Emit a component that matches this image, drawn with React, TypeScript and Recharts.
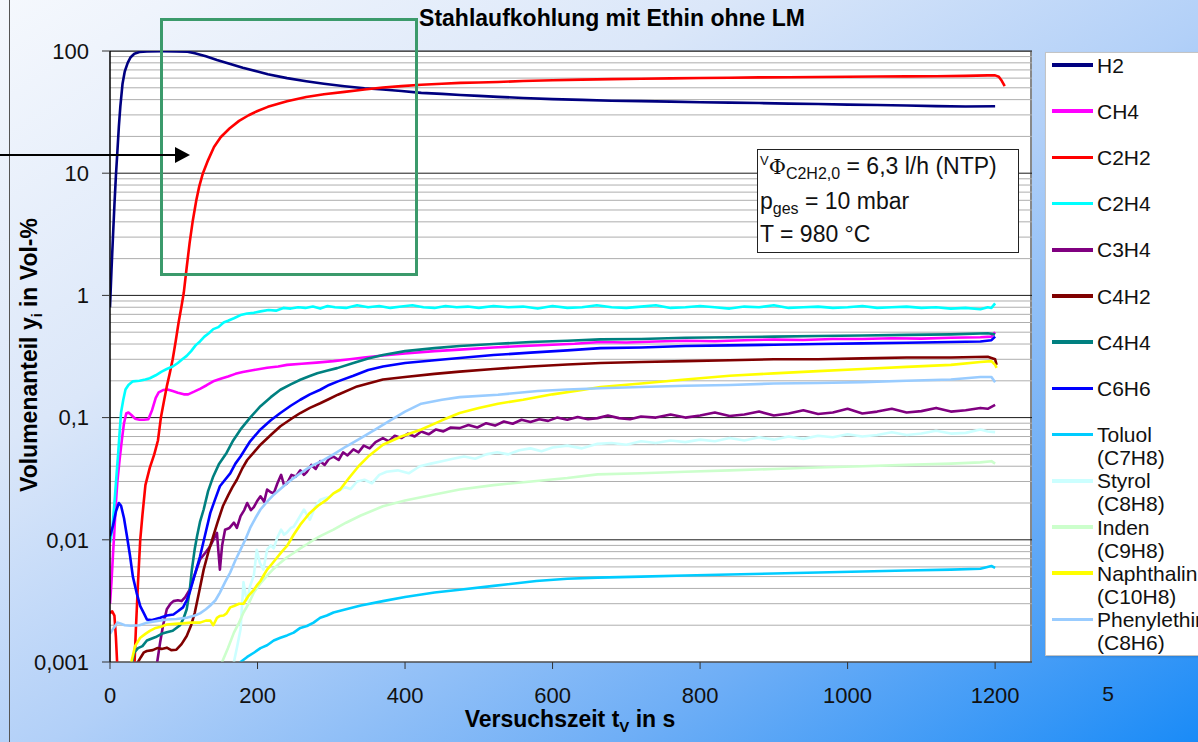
import React from "react";
import { CartesianGrid, Line, LineChart, XAxis, YAxis } from "recharts";

type Pt = [number, number];

// [Versuchszeit in s, Volumenanteil in Vol-%]
const H2: Pt[] = [
  [0, 0.8], [2, 1.6], [4, 3], [6, 5.5], [8, 9.5], [10, 15], [12, 24], [14, 35], [17, 54], [20, 68],
  [24, 80], [28, 89], [33, 95], [40, 98], [50, 99.3], [70, 99.5], [90, 99.3], [105, 98.5], [115, 96],
  [130, 90.5], [145, 84.5], [162, 78.8], [180, 73], [200, 68], [214, 64.5], [240, 60], [266, 56.6],
  [290, 54], [318, 51.5], [345, 49.6], [370, 48.4], [395, 47], [422, 45.4], [450, 44.6], [475, 43.6],
  [500, 42.9], [526, 42.1], [560, 41.3], [600, 40.4], [640, 39.8], [680, 39.2], [720, 38.9], [760, 38.5],
  [800, 38.1], [840, 37.8], [880, 37.5], [920, 37.1], [960, 36.8], [1000, 36.4], [1040, 36.1],
  [1080, 35.8], [1120, 35.4], [1160, 35.1], [1200, 35.3],
];

const CH4: Pt[] = [
  [0, 0.003], [2, 0.0045], [4, 0.0075], [6, 0.012], [8, 0.02], [10, 0.03], [13, 0.045], [16, 0.065],
  [19, 0.09], [22, 0.108], [25, 0.11], [29, 0.105], [34, 0.098], [40, 0.096], [46, 0.096], [52, 0.097],
  [57, 0.115], [62, 0.145], [66, 0.161], [72, 0.168], [78, 0.17], [85, 0.165], [92, 0.16], [100, 0.155],
  [106, 0.155], [114, 0.163], [122, 0.172], [131, 0.184], [140, 0.198], [150, 0.208], [160, 0.217],
  [170, 0.228], [180, 0.236], [195, 0.245], [213, 0.256], [228, 0.262], [240, 0.27], [260, 0.276],
  [280, 0.282], [303, 0.29], [325, 0.3], [344, 0.31], [370, 0.322], [400, 0.335], [440, 0.35],
  [474, 0.36], [520, 0.375], [560, 0.385], [600, 0.395], [630, 0.402], [665, 0.415], [700, 0.412],
  [740, 0.42], [780, 0.425], [820, 0.422], [860, 0.43], [900, 0.435], [940, 0.432], [980, 0.44],
  [1020, 0.44], [1060, 0.446], [1100, 0.443], [1140, 0.45], [1180, 0.455], [1195, 0.46], [1200, 0.5],
];

const C2H2: Pt[] = [
  [0, 0.0025], [3, 0.0026], [6, 0.0024], [8, 0.0016], [10, 0.0009], [12, 0.0004], [30, 0.0004],
  [33, 0.0009], [35, 0.0018], [38, 0.0045], [41, 0.01], [44, 0.016], [48, 0.028], [54, 0.039],
  [60, 0.05], [65, 0.065], [69, 0.1], [73, 0.135], [77, 0.18], [81, 0.23], [85, 0.3], [89, 0.42],
  [93, 0.6], [97, 0.82], [100, 1.05], [104, 1.7], [108, 2.7], [112, 4], [117, 6], [121, 7.8], [126, 10],
  [133, 12.8], [141, 16.4], [150, 19.7], [162, 23.2], [175, 26.8], [188, 29.8], [200, 32.3], [214, 34.9],
  [240, 38.8], [266, 42], [290, 44.3], [318, 46.3], [345, 48.4], [370, 50.2], [395, 51.6], [422, 53],
  [450, 54], [475, 54.8], [500, 55.3], [526, 55.8], [560, 56.8], [600, 57.6], [640, 58.3], [680, 58.9],
  [720, 59.3], [760, 59.7], [800, 60.1], [840, 60.4], [880, 60.8], [920, 61], [960, 61.3], [1000, 61.5],
  [1040, 61.8], [1080, 62], [1120, 62.2], [1160, 62.6], [1190, 63.2], [1200, 63.2], [1205, 61.5],
  [1209, 57], [1213, 51.5],
];

const C2H4: Pt[] = [
  [0, 0.0095], [3, 0.012], [6, 0.02], [9, 0.035], [11, 0.05], [13, 0.075], [15, 0.11], [18, 0.14],
  [21, 0.17], [25, 0.185], [31, 0.198], [40, 0.2], [48, 0.205], [54, 0.21], [62, 0.222], [70, 0.238],
  [77, 0.25], [85, 0.262], [92, 0.28], [98, 0.3], [104, 0.32], [110, 0.35], [116, 0.39], [122, 0.42],
  [128, 0.46], [134, 0.49], [140, 0.53], [147, 0.55], [154, 0.6], [160, 0.62], [168, 0.65], [177, 0.69],
  [186, 0.71], [195, 0.72], [204, 0.74], [215, 0.76], [225, 0.75], [235, 0.79], [245, 0.78], [255, 0.8],
  [265, 0.79], [275, 0.81], [285, 0.78], [295, 0.82], [305, 0.8], [320, 0.79], [335, 0.83], [350, 0.8],
  [365, 0.82], [380, 0.79], [395, 0.81], [410, 0.83], [425, 0.8], [440, 0.79], [455, 0.82], [470, 0.8],
  [485, 0.81], [500, 0.79], [520, 0.82], [540, 0.8], [560, 0.81], [580, 0.78], [600, 0.82], [620, 0.79],
  [640, 0.8], [660, 0.83], [680, 0.8], [700, 0.79], [720, 0.81], [740, 0.83], [760, 0.79], [780, 0.8],
  [800, 0.82], [820, 0.8], [840, 0.78], [860, 0.81], [880, 0.8], [900, 0.83], [920, 0.79], [940, 0.8],
  [960, 0.81], [980, 0.79], [1000, 0.8], [1020, 0.82], [1040, 0.79], [1060, 0.8], [1080, 0.81],
  [1100, 0.79], [1120, 0.8], [1140, 0.78], [1160, 0.79], [1180, 0.77], [1190, 0.8], [1195, 0.79],
  [1200, 0.86],
];

const C3H4: Pt[] = [
  [0, 0.0005], [60, 0.0005], [64, 0.001], [68, 0.00145], [72, 0.002], [77, 0.0027], [82, 0.003],
  [86, 0.00315], [92, 0.0032], [97, 0.00315], [102, 0.0034], [108, 0.0039], [115, 0.0052], [122, 0.0069],
  [129, 0.0078], [136, 0.0089], [142, 0.0105], [145, 0.0114], [147, 0.008], [149, 0.0057], [152, 0.009],
  [156, 0.0121], [162, 0.0125], [168, 0.0138], [172, 0.0125], [177, 0.0156], [182, 0.0175], [186, 0.02],
  [191, 0.0175], [195, 0.0185], [200, 0.021], [204, 0.0227], [209, 0.0205], [213, 0.0258], [218, 0.0245],
  [222, 0.024], [227, 0.029], [232, 0.034], [236, 0.028], [240, 0.029], [246, 0.034], [252, 0.033],
  [258, 0.037], [263, 0.034], [267, 0.036], [273, 0.041], [279, 0.038], [285, 0.044], [291, 0.041],
  [297, 0.046], [303, 0.048], [310, 0.045], [316, 0.052], [322, 0.049], [330, 0.055], [337, 0.052],
  [344, 0.059], [352, 0.056], [360, 0.063], [370, 0.068], [378, 0.064], [386, 0.071], [395, 0.068],
  [404, 0.074], [413, 0.07], [422, 0.077], [432, 0.073], [442, 0.08], [452, 0.077], [462, 0.083],
  [474, 0.082], [486, 0.087], [498, 0.083], [510, 0.09], [522, 0.086], [534, 0.093], [546, 0.089],
  [558, 0.096], [570, 0.092], [582, 0.097], [594, 0.094], [606, 0.1], [620, 0.096], [634, 0.101],
  [648, 0.097], [661, 0.099], [675, 0.104], [690, 0.099], [705, 0.097], [720, 0.102], [740, 0.1],
  [760, 0.106], [780, 0.1], [800, 0.104], [820, 0.11], [840, 0.103], [860, 0.106], [880, 0.112],
  [900, 0.104], [920, 0.108], [940, 0.115], [960, 0.107], [980, 0.11], [1000, 0.118], [1020, 0.108],
  [1040, 0.112], [1060, 0.118], [1080, 0.11], [1100, 0.113], [1120, 0.12], [1140, 0.112], [1160, 0.115],
  [1180, 0.12], [1190, 0.118], [1200, 0.127],
];

const C4H2: Pt[] = [
  [0, 0.0005], [36, 0.0005], [38, 0.001], [42, 0.0011], [46, 0.0012], [50, 0.00123], [58, 0.00125],
  [64, 0.0013], [70, 0.00128], [77, 0.00131], [83, 0.00125], [90, 0.00126], [97, 0.0014], [104, 0.00163],
  [110, 0.002], [115, 0.00254], [121, 0.0038], [127, 0.0057], [133, 0.0078], [140, 0.0107], [146, 0.014],
  [153, 0.0188], [160, 0.023], [166, 0.027], [172, 0.031], [179, 0.038], [186, 0.045], [195, 0.052],
  [204, 0.06], [218, 0.072], [231, 0.085], [245, 0.097], [258, 0.109], [271, 0.12], [285, 0.131],
  [297, 0.142], [309, 0.154], [335, 0.18], [370, 0.205], [400, 0.215], [440, 0.228], [474, 0.238],
  [520, 0.25], [570, 0.262], [620, 0.272], [665, 0.28], [720, 0.285], [780, 0.29], [840, 0.295],
  [900, 0.3], [960, 0.3], [1020, 0.305], [1080, 0.31], [1140, 0.31], [1190, 0.315], [1200, 0.3],
  [1202, 0.27],
];

const C4H4: Pt[] = [
  [0, 0.0005], [28, 0.0005], [30, 0.001], [33, 0.0012], [38, 0.0013], [44, 0.00135], [50, 0.0015],
  [56, 0.00155], [62, 0.0016], [70, 0.0017], [77, 0.00175], [85, 0.0018], [95, 0.002], [100, 0.0023],
  [104, 0.0027], [108, 0.0038], [111, 0.0057], [115, 0.0085], [118, 0.0107], [122, 0.014], [127, 0.0177],
  [133, 0.025], [140, 0.033], [148, 0.042], [158, 0.0514], [167, 0.065], [177, 0.08], [190, 0.1],
  [204, 0.124], [218, 0.147], [231, 0.169], [245, 0.187], [258, 0.204], [270, 0.218], [281, 0.231],
  [295, 0.243], [308, 0.254], [330, 0.28], [350, 0.305], [370, 0.325], [400, 0.35], [440, 0.37],
  [474, 0.385], [520, 0.4], [570, 0.415], [620, 0.425], [665, 0.437], [720, 0.44], [780, 0.45],
  [840, 0.455], [900, 0.46], [960, 0.465], [1020, 0.47], [1080, 0.475], [1140, 0.48], [1190, 0.49],
  [1200, 0.48],
];

const C6H6: Pt[] = [
  [0, 0.0107], [4, 0.013], [8, 0.017], [12, 0.02], [15, 0.019], [19, 0.015], [23, 0.0107], [27, 0.0075],
  [31, 0.005], [36, 0.0037], [41, 0.00287], [46, 0.0025], [50, 0.00223], [56, 0.0022], [62, 0.00225],
  [68, 0.0023], [77, 0.0024], [86, 0.00245], [92, 0.0026], [99, 0.0028], [104, 0.0032], [108, 0.0037],
  [115, 0.0052], [122, 0.0073], [129, 0.011], [136, 0.0166], [142, 0.021], [149, 0.0274], [156, 0.031],
  [163, 0.035], [170, 0.042], [177, 0.048], [190, 0.064], [204, 0.08], [218, 0.095], [231, 0.109],
  [245, 0.125], [258, 0.14], [271, 0.155], [285, 0.169], [297, 0.185], [309, 0.198], [330, 0.22],
  [350, 0.245], [370, 0.262], [400, 0.28], [440, 0.295], [474, 0.307], [520, 0.325], [570, 0.34],
  [620, 0.355], [665, 0.37], [720, 0.375], [780, 0.385], [840, 0.39], [900, 0.395], [960, 0.4],
  [1020, 0.405], [1080, 0.41], [1140, 0.415], [1180, 0.42], [1195, 0.43], [1200, 0.46],
];

const C7H8: Pt[] = [
  [0, 0.0005], [175, 0.0005], [177, 0.001], [186, 0.0011], [195, 0.00119], [204, 0.0013], [213, 0.00137],
  [222, 0.0015], [231, 0.00158], [240, 0.00165], [249, 0.00174], [258, 0.0019], [267, 0.00197],
  [276, 0.0021], [285, 0.0023], [294, 0.0024], [303, 0.00254], [320, 0.0027], [340, 0.0029],
  [370, 0.00315], [400, 0.0034], [440, 0.0037], [474, 0.0039], [520, 0.0042], [578, 0.0046],
  [620, 0.0048], [661, 0.0049], [720, 0.005], [780, 0.0051], [840, 0.0052], [900, 0.0053], [960, 0.0054],
  [1020, 0.0055], [1080, 0.0056], [1140, 0.0057], [1180, 0.0058], [1195, 0.0061], [1200, 0.0059],
];

const C8H8: Pt[] = [
  [0, 0.0005], [166, 0.0005], [168, 0.001], [172, 0.0013], [177, 0.00185], [181, 0.0045], [184, 0.0035],
  [186, 0.0032], [190, 0.0042], [195, 0.0051], [199, 0.0083], [203, 0.0065], [208, 0.0057], [213, 0.0083],
  [218, 0.009], [222, 0.0085], [227, 0.0105], [232, 0.0121], [236, 0.011], [240, 0.0115], [245, 0.0125],
  [249, 0.0128], [256, 0.015], [263, 0.0177], [267, 0.016], [271, 0.0146], [278, 0.0185], [285, 0.0213],
  [292, 0.022], [298, 0.0225], [303, 0.024], [310, 0.025], [318, 0.027], [326, 0.026], [335, 0.03],
  [345, 0.031], [355, 0.029], [365, 0.034], [375, 0.036], [390, 0.037], [405, 0.035], [420, 0.04],
  [435, 0.042], [450, 0.044], [465, 0.046], [480, 0.048], [495, 0.046], [510, 0.05], [525, 0.052],
  [540, 0.05], [555, 0.054], [570, 0.056], [585, 0.053], [600, 0.057], [620, 0.059], [640, 0.056],
  [661, 0.061], [680, 0.062], [700, 0.06], [720, 0.064], [740, 0.062], [760, 0.065], [780, 0.063],
  [800, 0.066], [820, 0.064], [840, 0.068], [860, 0.065], [880, 0.069], [900, 0.066], [920, 0.07],
  [940, 0.067], [960, 0.071], [980, 0.069], [1000, 0.073], [1020, 0.07], [1040, 0.072], [1060, 0.076],
  [1080, 0.072], [1100, 0.074], [1120, 0.078], [1140, 0.074], [1160, 0.075], [1180, 0.08], [1190, 0.077],
  [1200, 0.076],
];

const C9H8: Pt[] = [
  [0, 0.0005], [150, 0.0005], [152, 0.001], [160, 0.0013], [168, 0.00174], [175, 0.0021], [181, 0.00254],
  [188, 0.003], [195, 0.0037], [204, 0.0044], [213, 0.0051], [222, 0.0058], [231, 0.0065], [240, 0.0072],
  [249, 0.0078], [258, 0.0085], [267, 0.0092], [276, 0.01], [285, 0.0107], [294, 0.0114], [303, 0.0121],
  [320, 0.0138], [340, 0.0158], [370, 0.0188], [400, 0.021], [440, 0.0235], [474, 0.0258], [520, 0.028],
  [578, 0.0303], [620, 0.032], [661, 0.0343], [720, 0.035], [780, 0.036], [840, 0.037], [900, 0.038],
  [960, 0.039], [1020, 0.04], [1080, 0.041], [1140, 0.042], [1180, 0.043], [1195, 0.044], [1200, 0.042],
];

const C10H8: Pt[] = [
  [0, 0.0005], [27, 0.0005], [29, 0.001], [34, 0.00135], [41, 0.00158], [48, 0.0017], [54, 0.0018],
  [62, 0.0019], [70, 0.00195], [77, 0.00203], [88, 0.00205], [99, 0.00207], [110, 0.0021], [122, 0.0021],
  [130, 0.00218], [136, 0.00218], [140, 0.002], [145, 0.0023], [149, 0.00238], [154, 0.0024],
  [158, 0.0025], [163, 0.0028], [168, 0.00287], [175, 0.003], [181, 0.003], [188, 0.0035], [195, 0.0039],
  [200, 0.0043], [204, 0.0046], [209, 0.0052], [213, 0.0057], [220, 0.0064], [226, 0.0071], [233, 0.008],
  [240, 0.0089], [249, 0.011], [258, 0.0133], [265, 0.015], [271, 0.0166], [282, 0.019], [294, 0.0213],
  [303, 0.024], [312, 0.0258], [324, 0.032], [337, 0.04], [350, 0.048], [370, 0.06], [395, 0.07],
  [422, 0.08], [450, 0.095], [474, 0.109], [500, 0.12], [526, 0.13], [560, 0.14], [600, 0.155],
  [640, 0.168], [665, 0.178], [720, 0.19], [780, 0.205], [840, 0.22], [900, 0.23], [960, 0.24],
  [1020, 0.25], [1080, 0.26], [1140, 0.27], [1180, 0.285], [1195, 0.29], [1200, 0.27], [1202, 0.255],
];

const C8H6: Pt[] = [
  [0, 0.0017], [5, 0.0019], [10, 0.0021], [14, 0.00207], [20, 0.002], [28, 0.00198], [40, 0.002],
  [50, 0.0021], [60, 0.00215], [77, 0.00223], [90, 0.00225], [104, 0.0023], [115, 0.0024], [122, 0.0025],
  [130, 0.0027], [136, 0.0029], [143, 0.0032], [149, 0.0037], [156, 0.0045], [163, 0.0054], [170, 0.0068],
  [177, 0.0083], [184, 0.0102], [190, 0.0125], [197, 0.015], [204, 0.0177], [213, 0.0205], [222, 0.0234],
  [231, 0.026], [240, 0.029], [249, 0.032], [258, 0.035], [267, 0.038], [276, 0.041], [290, 0.045],
  [303, 0.05], [320, 0.058], [340, 0.068], [360, 0.08], [380, 0.095], [400, 0.112], [422, 0.13],
  [450, 0.14], [474, 0.147], [526, 0.154], [580, 0.165], [620, 0.17], [665, 0.174], [720, 0.178],
  [780, 0.182], [840, 0.185], [900, 0.19], [960, 0.192], [1020, 0.195], [1080, 0.2], [1140, 0.205],
  [1180, 0.215], [1195, 0.215], [1200, 0.195],
];

const seriesNames = [
  "H2", "CH4", "C2H2", "C2H4", "C3H4", "C4H2", "C4H4", "C6H6",
  "Toluol", "Styrol", "Inden", "Naphthalin", "Phenylethin",
];
const seriesFormulas = ["", "", "", "", "", "", "", "", "(C7H8)", "(C8H8)", "(C9H8)", "(C10H8)", "(C8H6)"];
const seriesValues: Pt[][] = [H2, CH4, C2H2, C2H4, C3H4, C4H2, C4H4, C6H6, C7H8, C8H8, C9H8, C10H8, C8H6];
const seriesColors = [
  "#000080", "#ff00ff", "#ff0000", "#00ffff", "#800080", "#800000", "#008080", "#0000ff",
  "#00ccff", "#ccffff", "#ccffcc", "#ffff00", "#99ccff",
];

const xTicks = [0, 200, 400, 600, 800, 1000, 1200];
const yTicks = [0.001, 0.01, 0.1, 1, 10, 100];
const yTickLabels = ["0,001", "0,01", "0,1", "1", "10", "100"];
const yMinor = yTicks.slice(0, -1).flatMap((d) => [2, 3, 4, 5, 6, 7, 8, 9].map((k) => d * k));

const FONT = '"Liberation Sans", Arial, Helvetica, sans-serif';
const W = 1198;
const H = 742;
const M = { top: 51, right: 166, bottom: 20, left: 0 };
const Y_AXIS_W = 110;
const X_AXIS_H = 60;
const PLOT = {
  left: M.left + Y_AXIS_W,
  top: M.top,
  width: W - M.left - Y_AXIS_W - M.right,
  height: H - M.top - M.bottom - X_AXIS_H,
};

const abs = (s: React.CSSProperties): React.CSSProperties => ({ position: "absolute", ...s });

export default function App() {
  return (
    <div
      style={abs({
        left: 0,
        top: 0,
        width: W,
        height: H,
        overflow: "hidden",
        fontFamily: FONT,
        background: "linear-gradient(to bottom right, #f5f8fd 0%, #dbe7f9 30%, #b2d0f8 52%, #6eaef6 76%, #1a8bf7 100%)",
      })}
    >
      {/* Folienrand links */}
      <div style={abs({ left: 9, top: 0, width: 1, height: H, background: "#555" })} />

      {/* weiße Zeichenfläche */}
      <div
        style={abs({
          left: PLOT.left,
          top: PLOT.top,
          width: PLOT.width,
          height: PLOT.height,
          background: "#fff",
          boxSizing: "border-box",
          borderTop: "1px solid #888",
          borderRight: "2px solid #888",
        })}
      />

      <div style={abs({ left: 0, top: 0 })}>
        <LineChart width={W} height={H} margin={M}>
          <CartesianGrid vertical={false} horizontalValues={yMinor} stroke="#aeaeae" strokeWidth={1} />
          <CartesianGrid vertical={false} horizontalValues={yTicks} stroke="#1a1a1a" strokeWidth={1} />
          <XAxis
            type="number"
            dataKey="t"
            domain={[0, 1250]}
            ticks={xTicks}
            allowDataOverflow
            height={X_AXIS_H}
            interval={0}
            tickSize={7}
            tickMargin={18}
            axisLine={{ stroke: "#666" }}
            tickLine={{ stroke: "#333" }}
            tick={{ fill: "#111", fontSize: 22, fontFamily: FONT }}
          />
          <YAxis
            type="number"
            dataKey="v"
            scale="log"
            domain={[0.001, 100]}
            ticks={yTicks}
            allowDataOverflow
            width={Y_AXIS_W}
            interval={0}
            tickSize={8}
            tickMargin={13}
            tickFormatter={(v: number) => yTickLabels[yTicks.indexOf(v)] ?? ""}
            axisLine={{ stroke: "#000", strokeWidth: 1.5 }}
            tickLine={{ stroke: "#333" }}
            tick={{ fill: "#111", fontSize: 22, fontFamily: FONT }}
          />
          {seriesValues.map((pts, i) => (
            <Line
              key={seriesNames[i]}
              data={pts.map(([t, v]) => ({ t, v }))}
              dataKey="v"
              type="linear"
              stroke={seriesColors[i]}
              strokeWidth={2.6}
              strokeLinejoin="round"
              dot={false}
              activeDot={false}
              isAnimationActive={false}
            />
          ))}
        </LineChart>
      </div>

      {/* Parameterbox */}
      <div
        style={abs({
          left: 757,
          top: 149,
          width: 262,
          height: 104,
          boxSizing: "border-box",
          background: "#fff",
          border: "1px solid #222",
          padding: "1px 0 0 2px",
          fontSize: 23,
          lineHeight: "31.5px",
          color: "#111",
          whiteSpace: "nowrap",
        })}
      >
        <div>
          <span style={{ fontSize: 13, position: "relative", top: -9 }}>V</span>
          <span style={{ fontFamily: '"DejaVu Serif", serif', fontSize: 21 }}>Φ</span>
          <span style={{ fontSize: 16, position: "relative", top: 5 }}>C2H2,0</span> = 6,3 l/h (NTP)
        </div>
        <div>
          p<span style={{ fontSize: 16, position: "relative", top: 5 }}>ges</span> = 10 mbar
        </div>
        <div>T = 980 °C</div>
      </div>

      {/* Markierung */}
      <div
        style={abs({
          left: 160,
          top: 18,
          width: 258,
          height: 258,
          boxSizing: "border-box",
          border: "3px solid #3b9a6b",
        })}
      />
      <svg style={abs({ left: 0, top: 0 })} width={200} height={200}>
        <line x1={0} y1={155} x2={178} y2={155} stroke="#000" strokeWidth={2} />
        <polygon points="175,147 190,155 175,163" fill="#000" />
      </svg>

      {/* Titel und Achsentitel */}
      <div
        style={abs({
          left: 612,
          top: 5,
          transform: "translateX(-50%)",
          fontSize: 23,
          fontWeight: 700,
          lineHeight: "26px",
          color: "#000",
          whiteSpace: "nowrap",
        })}
      >
        Stahlaufkohlung mit Ethin ohne LM
      </div>
      <div
        style={abs({
          left: 30,
          top: 355,
          transform: "translate(-50%, -50%) rotate(-90deg)",
          fontSize: 23,
          fontWeight: 700,
          lineHeight: "26px",
          color: "#000",
          whiteSpace: "nowrap",
        })}
      >
        Volumenanteil y<span style={{ fontSize: 14, position: "relative", top: 5 }}>i</span> in Vol-%
      </div>
      <div
        style={abs({
          left: 570,
          top: 719,
          transform: "translate(-50%, -50%)",
          fontSize: 23,
          fontWeight: 700,
          lineHeight: "19px",
          color: "#000",
          whiteSpace: "nowrap",
        })}
      >
        Versuchszeit t<span style={{ fontSize: 15, position: "relative", top: 5, lineHeight: 0 }}>V</span> in s
      </div>
      <div style={abs({ left: 1108, top: 694, transform: "translate(-50%, -50%)", fontSize: 21, color: "#111" })}>
        5
      </div>

      {/* Legende */}
      <div
        style={abs({
          left: 1045,
          top: 52,
          width: 170,
          height: 604,
          boxSizing: "border-box",
          background: "#fff",
          border: "1px solid #c4c4c4",
          boxShadow: "1px 1px 2px rgba(0,0,0,0.15)",
        })}
      />
      {seriesNames.map((name, i) => {
        const cy = 65 + i * 46.2;
        return (
          <React.Fragment key={name}>
            <div style={abs({ left: 1052, top: cy - 1.75, width: 41, height: 3.5, background: seriesColors[i] })} />
            <div
              style={abs({
                left: 1097,
                top: cy - 11.5,
                fontSize: 21,
                lineHeight: "23px",
                color: "#111",
                whiteSpace: "nowrap",
              })}
            >
              {name}
              {seriesFormulas[i] && (
                <>
                  <br />
                  {seriesFormulas[i]}
                </>
              )}
            </div>
          </React.Fragment>
        );
      })}
    </div>
  );
}
